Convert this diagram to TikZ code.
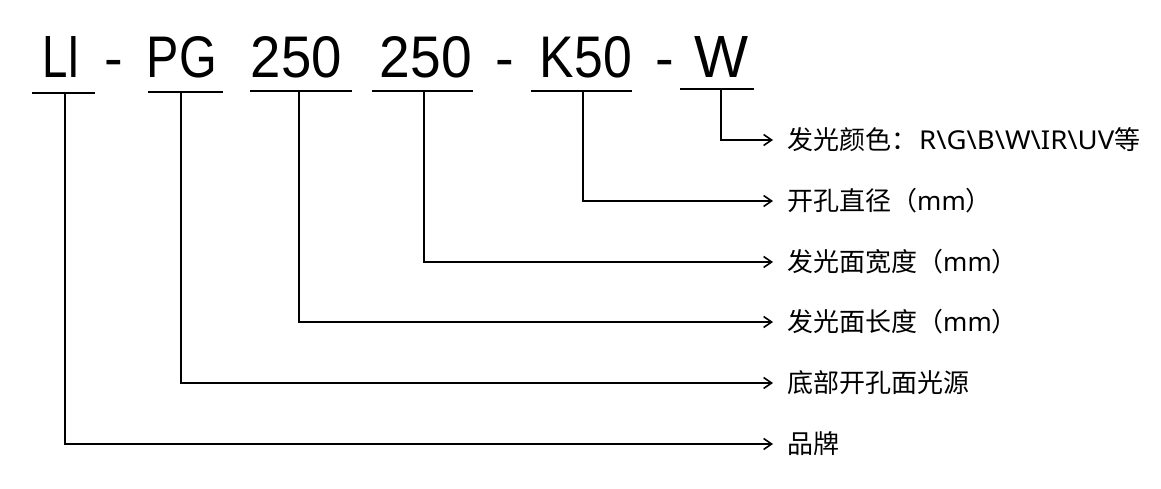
\documentclass[tikz,border=0pt]{standalone}
\usepackage{fontspec}
\setmainfont{Liberation Sans}
\newfontfamily\cjkfont{Noto Sans CJK SC}
\newfontfamily\latfont{Noto Sans}
\newfontfamily\titlefont{Liberation Sans}
\usetikzlibrary{arrows.meta}
\begin{document}
\begin{tikzpicture}[x=1pt,y=-1pt,
  piece/.style={anchor=base,inner sep=0pt,font=\titlefont},
  dashpiece/.style={anchor=base,inner sep=0pt,font=\titlefont\fontsize{56}{56}\selectfont},
  uline/.style={line width=2.6pt},
  conn/.style={line width=1.6pt,-{Straight Barb[length=8pt,width=11pt,line width=1.6pt]}},
  lab/.style={anchor=west,inner xsep=14pt,inner ysep=0pt,font=\cjkfont\fontsize{26}{26}\selectfont}]
\useasboundingbox (0,0) rectangle (1161,489);
% title pieces
\node[piece] (p1) at (61,78) {\resizebox{38pt}{41pt}{LI}};
\node[dashpiece] (d1) at (114,78) {-};
\node[piece] (p2) at (182,78) {\resizebox{70pt}{41pt}{PG}};
\node[piece] (p3) at (296.5,78) {\resizebox{91pt}{41pt}{250}};
\node[piece] (p4) at (426,78) {\resizebox{92pt}{41pt}{250}};
\node[dashpiece] (d2) at (505,78) {-};
\node[piece] (p5) at (586,78) {\resizebox{92pt}{41pt}{K50}};
\node[dashpiece] (d3) at (664.5,78) {-};
\node[piece] (p6) at (721.5,78) {\resizebox{54pt}{41pt}{W}};
% underlines
\coordinate (u1a) at (32,93);  \coordinate (u1b) at (95,93);
\coordinate (u2a) at (148,92); \coordinate (u2b) at (223,92);
\coordinate (u3a) at (250,91); \coordinate (u3b) at (352,91);
\coordinate (u4a) at (372,91); \coordinate (u4b) at (473,91);
\coordinate (u5a) at (531,91); \coordinate (u5b) at (632,91);
\coordinate (u6a) at (680,89); \coordinate (u6b) at (754,89);
\draw[uline] (u1a) -- (u1b);
\draw[uline] (u2a) -- (u2b);
\draw[uline] (u3a) -- (u3b);
\draw[uline] (u4a) -- (u4b);
\draw[uline] (u5a) -- (u5b);
\draw[uline] (u6a) -- (u6b);
% start points of connectors
\coordinate (c1) at (65,93);
\coordinate (c2) at (181,92);
\coordinate (c3) at (299,91);
\coordinate (c4) at (424,91);
\coordinate (c5) at (583,91);
\coordinate (c6) at (721,89);
% labels
\node[lab] (l6) at (773,140) {发光颜色：\hspace{2pt}\scalebox{1.06}[1]{\latfont R\textbackslash G\textbackslash B\textbackslash W\textbackslash IR\textbackslash UV}等};
\node[lab] (l5) at (773,201) {开孔直径（{\latfont mm}）};
\node[lab] (l4) at (773,262) {发光面宽度（{\latfont mm}）};
\node[lab] (l3) at (773,322) {发光面长度（{\latfont mm}）};
\node[lab] (l2) at (773,383) {底部开孔面光源};
\node[lab] (l1) at (773,444) {品牌};
% connectors
\draw[conn] (c6) |- (l6.west);
\draw[conn] (c5) |- (l5.west);
\draw[conn] (c4) |- (l4.west);
\draw[conn] (c3) |- (l3.west);
\draw[conn] (c2) |- (l2.west);
\draw[conn] (c1) |- (l1.west);
\end{tikzpicture}
\end{document}
